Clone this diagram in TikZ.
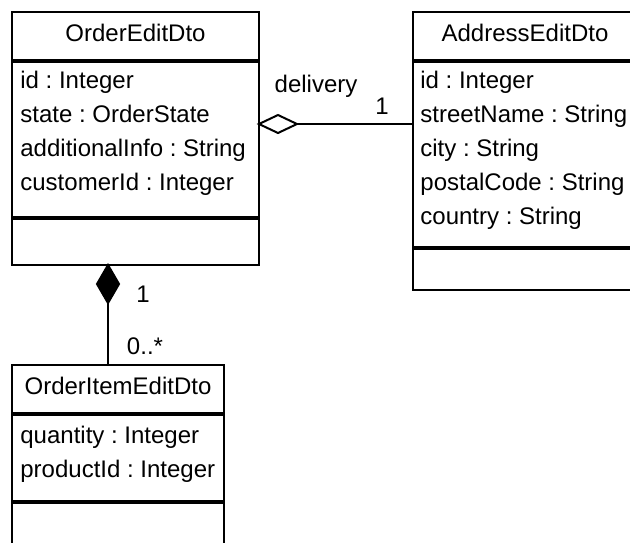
\documentclass[tikz,border=0pt]{standalone}
\usepackage{fontspec}
\setmainfont{Liberation Sans}
\frenchspacing
\begin{document}
\begin{tikzpicture}[x=0.5pt,y=-0.5pt,
  box/.style={draw,line width=1pt},
  sep/.style={line width=1.6pt},
  txt/.style={anchor=base west,inner sep=0pt,font=\fontsize{12}{14}\selectfont},
  ttl/.style={anchor=base,inner sep=0pt,font=\fontsize{12}{14}\selectfont},
  lbl/.style={anchor=base,inner sep=0pt,font=\fontsize{12}{14}\selectfont},
  link/.style={line width=1pt}]
\useasboundingbox (0,0) rectangle (630,542);
\clip (0,0) rectangle (630,542);
\fill[white] (0,0) rectangle (630,542);
% OrderEditDto
\draw[box] (12,12) rectangle (259,265);
\draw[sep] (12,61) -- (259,61);
\draw[sep] (12,218) -- (259,218);
\node[ttl] (oet) at (135.5,41) {OrderEditDto};
\node[txt] (oe1) at (20,88) {id : Integer};
\node[txt] (oe2) at (20,122) {state : OrderState};
\node[txt] (oe3) at (20,156) {additionalInfo : String};
\node[txt] (oe4) at (20,190) {customerId : Integer};
% AddressEditDto
\draw[box] (413,12) rectangle (640,290);
\draw[sep] (413,61) -- (640,61);
\draw[sep] (413,248) -- (640,248);
\node[ttl] (aet) at (525,41) {AddressEditDto};
\node[txt] (ae1) at (420,88) {id : Integer};
\node[txt] (ae2) at (420,122) {streetName : String};
\node[txt] (ae3) at (420,156) {city : String};
\node[txt] (ae4) at (420,190) {postalCode : String};
\node[txt] (ae5) at (420,224) {country : String};
% OrderItemEditDto
\draw[box] (12,365) rectangle (224,560);
\draw[sep] (12,414) -- (224,414);
\draw[sep] (12,502) -- (224,502);
\node[ttl] (oit) at (118,394) {OrderItemEditDto};
\node[txt] (oi1) at (20,443) {quantity : Integer};
\node[txt] (oi2) at (20,477) {productId : Integer};
% aggregation
\coordinate (agA) at (259,124);
\coordinate (agB) at (297,124);
\coordinate (agE) at (413,124);
\draw[link,fill=white] (agA) -- (278,115) -- (agB) -- (278,133) -- cycle;
\draw[link] (agB) -- (agE);
\node[lbl] (dl) at (316,92) {delivery};
\node[lbl] (m1) at (382,114) {1};
% composition
\coordinate (cpA) at (108,265);
\coordinate (cpB) at (108,303);
\coordinate (cpE) at (108,365);
\draw[link,fill=black] (cpA) -- (119,284) -- (cpB) -- (97,284) -- cycle;
\draw[link] (cpB) -- (cpE);
\node[lbl] (m2) at (143,302) {1};
\node[lbl] (m3) at (145,354) {0..*};
\end{tikzpicture}
\end{document}
